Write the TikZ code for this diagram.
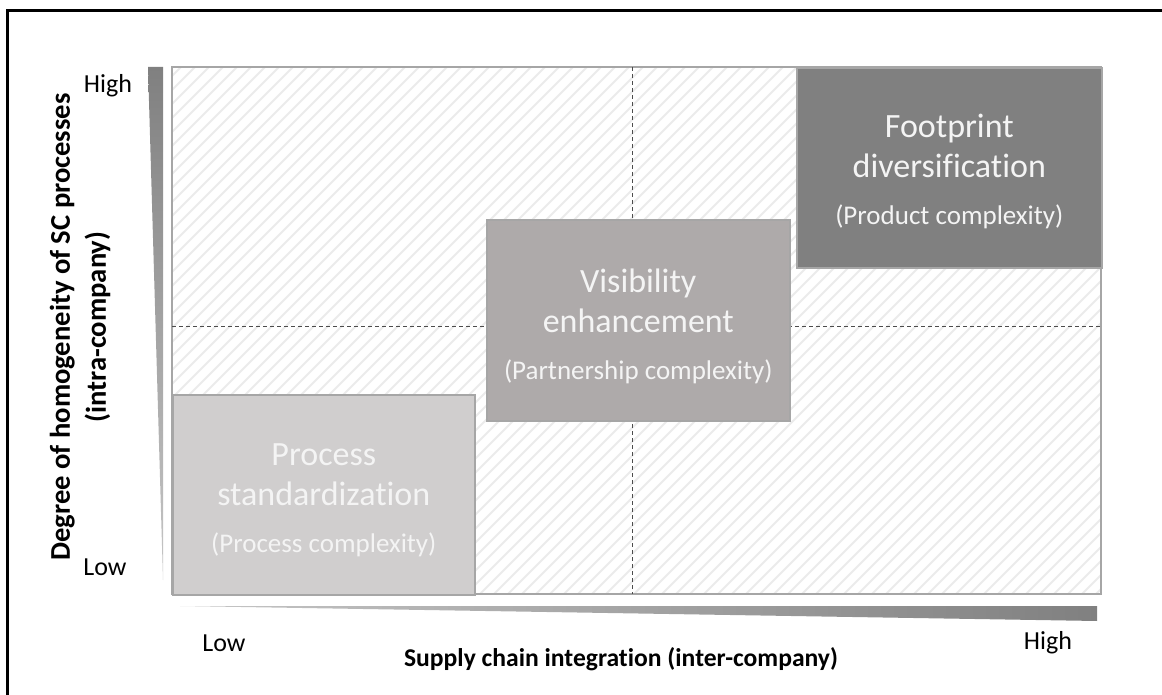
\documentclass[tikz,border=0pt]{standalone}
\usepackage{fontspec}
\setmainfont{Carlito}[Ligatures={NoCommon}]
\usetikzlibrary{positioning}

\definecolor{procgray}{HTML}{D0CECE}
\definecolor{visgray}{HTML}{AEAAAA}
\definecolor{footgray}{HTML}{808080}
\definecolor{hatchgray}{HTML}{EBEBEB}
\definecolor{edgegray}{HTML}{A6A6A6}
\definecolor{textwhite}{HTML}{F4F4F4}

\newcommand{\subtextfont}{\fontsize{13.5}{16}\selectfont}

\tikzset{
  box/.style={draw=edgegray, line width=0.8pt, anchor=north west, inner sep=0pt},
  boxtext/.style={text=textwhite, align=center, font=\fontsize{17}{20}\selectfont},
  hatch/.style={hatchgray, line width=1pt},
  midline/.style={draw=black!70, line width=0.5pt, dash pattern=on 2pt off 1.5pt},
  axislabel/.style={font=\fontsize{13}{15}\selectfont},
  axistitle/.style={font=\bfseries\fontsize{12.8}{18}\selectfont}
}

\begin{document}
\begin{tikzpicture}[x=0.5pt,y=-0.5pt]
\useasboundingbox (0,0) rectangle (1162,695);

% frame
\draw[line width=1.5pt] (7,720) rectangle (1190,11);

% hatched field
\begin{scope}
\clip (172,67) rectangle (1101,594);
\foreach \i in {-360,-346,...,1110}
  \draw[hatch] (\i,594) -- ++(527,-527);
\end{scope}
\draw[edgegray, line width=0.8pt] (172,67) rectangle (1101,594);

% quadrant lines
\coordinate (vtop) at (632,67);
\coordinate (vbot) at (632,594);
\coordinate (hleft) at (172,327);
\coordinate (hright) at (1101,327);
\draw[midline] (vtop) -- (vbot);
\draw[midline] (hleft) -- (hright);

% boxes
\node[box, fill=procgray, minimum width=151pt, minimum height=100pt] (proc) at (172,394) {};
\node[box, fill=visgray, minimum width=151.5pt, minimum height=100.5pt] (vis) at (486,219) {};
\node[box, fill=footgray, minimum width=152.5pt, minimum height=100pt] (foot) at (796,67) {};

\node[boxtext, yshift=-2.5pt] (proctext) at (proc.center) {Process\\standardization\\[3.5pt]{\subtextfont(Process complexity)}};
\node[boxtext, yshift=-3pt] (vistext) at (vis.center) {Visibility\\enhancement\\[3.5pt]{\subtextfont(Partnership complexity)}};
\node[boxtext, yshift=-2pt] (foottext) at (foot.center) {Footprint\\diversification\\[3.5pt]{\subtextfont(Product complexity)}};

% axis wedges
\shade[top color=footgray, bottom color=footgray!45] (148,67) -- (163,67) -- (163,580) -- cycle;
\shade[left color=footgray!45, right color=footgray] (180,606) -- (1097,606) -- (1097,621) -- cycle;

% axis labels
\node[axislabel] (yhigh) at (108,86) {High};
\node[axislabel] (ylow) at (105,567) {Low};
\node[axislabel] (xlow) at (224,643) {Low};
\node[axislabel] (xhigh) at (1048,643) {High};

\node[axistitle] (xtitle) at (621,659) {Supply chain integration (inter-company)};
\node[axistitle, font=\bfseries\fontsize{14.3}{18}\selectfont, rotate=90, align=center] (ytitle) at (80,327) {Degree of homogeneity of SC processes\\(intra-company)};
\end{tikzpicture}
\end{document}
